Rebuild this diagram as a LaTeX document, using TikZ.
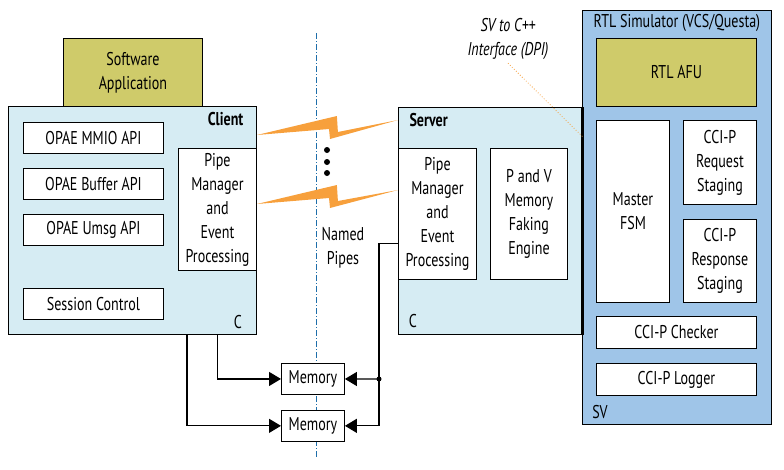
\documentclass[tikz,border=0pt]{standalone}
\usepackage{fontspec}
\setmainfont[FakeStretch=0.76]{PT Sans}
\usepackage{tikz}
\usetikzlibrary{arrows.meta,positioning}
\definecolor{clientblue}{RGB}{214,236,243}
\definecolor{afuolive}{RGB}{207,203,106}
\definecolor{simblue}{RGB}{159,197,232}
\definecolor{pipeorange}{RGB}{247,160,60}
\definecolor{dashblue}{RGB}{30,110,170}
\tikzset{box/.style={draw,fill=white,line width=0.9pt,inner sep=0pt,align=center,anchor=north west},
}

\begin{document}
\begin{tikzpicture}[x=1pt,y=-1pt,>={Triangle[length=12pt,width=14pt]},
		font=\fontsize{18.5}{24}\selectfont,
		panel/.style={box,fill=clientblue},
		olive box/.style={box,fill=afuolive},
		wire/.style={line width=1.2pt}]
		\useasboundingbox (0,0) rectangle (784,469);
		
		\draw[dashblue,line width=1pt,dash pattern=on 6pt off 2pt on 1pt off 2pt] (316,33) -- (316,458);
		
		\node[olive box,minimum width=139pt,minimum height=68pt] (app) at (63,38) {Software\\Application};
		\node[panel,minimum width=248pt,minimum height=228pt] (client) at (8,106) {};
		\node[box,minimum width=140pt,minimum height=31pt] (mmio) at (23,122) {OPAE MMIO API};
		\node[box,minimum width=140pt,minimum height=31pt] (buffer) at (23,168) {OPAE Buffer API};
		\node[box,minimum width=140pt,minimum height=31pt] (umsg) at (23,214) {OPAE Umsg API};
		\node[box,minimum width=140pt,minimum height=31pt] (session) at (23,288) {Session Control};
		\node[box,minimum width=78pt,minimum height=122pt] (cpipe) at (178,148) {Pipe\\Manager\\and\\Event\\Processing};
		\node[font=\fontsize{18.5}{24}\selectfont\bfseries,anchor=north east] at ([xshift=-10pt,yshift=-3pt]client.north east) {Client};
		\node at ([xshift=-19pt,yshift=13pt]client.south east) {C};
		
		\node[box,fill=simblue,minimum width=189pt,minimum height=414pt] (sim) at (582,10) {};
		\node at ([yshift=-13pt]sim.north) {RTL Simulator (VCS/Questa)};
		\node[olive box,minimum width=160pt,minimum height=68pt] (afu) at (596,38) {RTL AFU};
		\node[box,minimum width=73pt,minimum height=182pt] (fsm) at (596,120) {Master\\FSM};
		\node[box,minimum width=73pt,minimum height=84pt] (req) at (683,120) {CCI-P\\Request\\Staging};
		\node[box,minimum width=73pt,minimum height=83pt] (resp) at (683,219) {CCI-P\\Response\\Staging};
		\node[box,minimum width=160pt,minimum height=32pt] (checker) at (596,316) {CCI-P Checker};
		\node[box,minimum width=160pt,minimum height=32pt] (logger) at (596,363) {CCI-P Logger};
		\node at ([xshift=18pt,yshift=13pt]sim.south west) {SV};
		
		\node[panel,minimum width=184pt,minimum height=227pt] (server) at (398,107) {};
		\node[box,minimum width=78pt,minimum height=131pt] (spipe) at (398,148) {Pipe\\Manager\\and\\Event\\Processing};
		\node[box,minimum width=77pt,minimum height=131pt] (faker) at (490,148) {P and V\\Memory\\Faking\\Engine};
		\node[font=\fontsize{18.5}{24}\selectfont\bfseries,anchor=north west] at ([xshift=8pt,yshift=-3pt]server.north west) {Server};
		\node at ([xshift=15pt,yshift=14pt]server.south west) {C};
		\draw[line width=3pt] (server.north east) -- (server.south east);
		
		\node[font=\fontsize{18.5}{24}\selectfont\itshape,align=center] (dpi) at (508,39) {SV to C++\\Interface (DPI)};
		\draw[pipeorange,line width=0.8pt,dotted] (dpi.south) -- (server.east |- 0,137);
		
		\foreach \ya/\yb in {135/120,204/190}
		\fill[pipeorange] (client.east |- 0,\ya) -- ++(80,-19) -- ++(1,16) -- (server.west |- 0,\yb) -- (330,\ya+4) -- ++(-1,-10) -- cycle;
		\foreach \y in {150,162,173}
		\fill (327,\y) circle (3pt);
		\node[align=center] (named) at (343,248) {Named\\Pipes};
		
		\node[box,minimum width=63pt,minimum height=31pt] (mem1) at (281,363) {Memory};
		\node[box,minimum width=63pt,minimum height=31pt,below=15pt of mem1.south west,anchor=north west] (mem2) {Memory};
		
		\coordinate (tap) at (379,379);
		\draw[wire,->] (client.south -| cpipe.south) |- (mem1);
		\draw[wire,->] ([xshift=9pt]cpipe.south west |- client.south) |- (mem2);
		\draw[wire] ([yshift=-29.5pt]spipe.west) -| (tap);
		\draw[wire,->] (tap) -- (mem1);
		\draw[wire,->] (tap) |- (mem2);
		\fill (tap) circle (2.5pt);
\end{tikzpicture}
\end{document}
